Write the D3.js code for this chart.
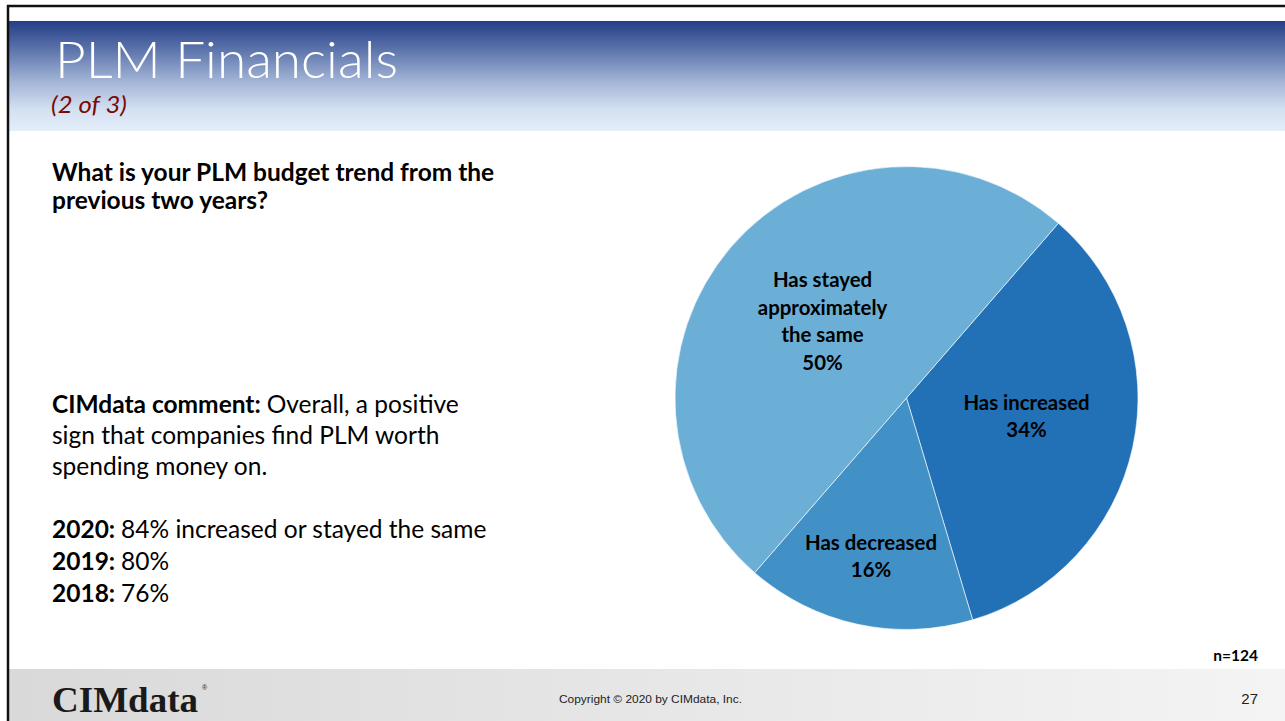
<!DOCTYPE html>
<html>
<head>
<meta charset="utf-8">
<script src="https://cdn.jsdelivr.net/npm/d3@7"></script>
<style>
  html, body { margin: 0; padding: 0; background: #fff; }
  svg { display: block; font-family: Lato, "Open Sans", sans-serif; }
</style>
</head>
<body>
<svg id="chart" width="1285" height="721"></svg>
<script>
const categories = ["Has increased", "Has decreased", "Has stayed approximately the same"];
const labelLines = [["Has increased"], ["Has decreased"], ["Has stayed", "approximately", "the same"]];
const values = [34, 16, 50];
const colors = ["#2271b6", "#4291c6", "#6baed6"];

const question = ["What is your PLM budget trend from the", "previous two years?"];
const comment = [
  [["CIMdata comment: ", true], ["Overall, a positive", false]],
  [["sign that companies find PLM worth", false]],
  [["spending money on.", false]]
];
const history = [["2020: ", "84% increased or stayed the same"], ["2019: ", "80%"], ["2018: ", "76%"]];

const W = 1285, H = 721;
const svg = d3.select("#chart");
const defs = svg.append("defs");

// header gradient
const hg = defs.append("linearGradient").attr("id", "hdr").attr("x1", 0).attr("y1", 0).attr("x2", 0).attr("y2", 1);
hg.append("stop").attr("offset", "0%").attr("stop-color", "#243d86");
hg.append("stop").attr("offset", "25%").attr("stop-color", "#5a72aa");
hg.append("stop").attr("offset", "55%").attr("stop-color", "#a3b4d6");
hg.append("stop").attr("offset", "80%").attr("stop-color", "#d3e0f1");
hg.append("stop").attr("offset", "100%").attr("stop-color", "#e3eefa");

const fg = defs.append("linearGradient").attr("id", "ftr").attr("x1", 0).attr("y1", 0).attr("x2", 1).attr("y2", 0);
fg.append("stop").attr("offset", "0%").attr("stop-color", "#d9d9d9");
fg.append("stop").attr("offset", "100%").attr("stop-color", "#f4f4f4");

// frame
svg.append("rect").attr("x", 0).attr("y", 0).attr("width", W).attr("height", H).attr("fill", "#fff");
svg.append("rect").attr("x", 9).attr("y", 21).attr("width", W - 9).attr("height", 110).attr("fill", "url(#hdr)");
svg.append("rect").attr("x", 9).attr("y", 669).attr("width", W - 9).attr("height", 52).attr("fill", "url(#ftr)");
svg.append("line").attr("x1", 7).attr("x2", W).attr("y1", 6).attr("y2", 6).attr("stroke", "#111").attr("stroke-width", 2.5);
svg.append("line").attr("x1", 8).attr("x2", 8).attr("y1", 5).attr("y2", H).attr("stroke", "#111").attr("stroke-width", 2.5);

// title
svg.append("text").attr("x", 55).attr("y", 78)
  .attr("fill", "#fff").style("font-size", "52px").style("font-weight", 300)
  .attr("textLength", 343).attr("lengthAdjust", "spacingAndGlyphs")
  .text("PLM Financials");
svg.append("text").attr("x", 51).attr("y", 113)
  .attr("fill", "#7a0a0a").style("font-size", "24px").style("font-style", "italic")
  .attr("textLength", 76).attr("lengthAdjust", "spacingAndGlyphs")
  .text("(2 of 3)");

// left text
svg.append("g").selectAll("text").data(question).join("text")
  .attr("x", 52).attr("y", (d, i) => 181 + i * 28)
  .attr("fill", "#000").style("font-size", "24.5px").style("font-weight", 700)
  .text(d => d);

const cm = svg.append("g").selectAll("text").data(comment).join("text")
  .attr("x", 52).attr("y", (d, i) => 413 + i * 31)
  .attr("fill", "#000").style("font-size", "24.5px");
cm.selectAll("tspan").data(d => d).join("tspan")
  .style("font-weight", d => d[1] ? 700 : 400)
  .text(d => d[0]);

const hs = svg.append("g").selectAll("text").data(history).join("text")
  .attr("x", 52).attr("y", (d, i) => 538 + i * 32)
  .attr("fill", "#000").style("font-size", "24.5px");
hs.append("tspan").style("font-weight", 700).text(d => d[0]);
hs.append("tspan").text(d => d[1]);

// pie
const cx = 906.5, cy = 398, r = 231.5;
const startA = 41 * Math.PI / 180;
const pie = d3.pie().sort(null).startAngle(startA).endAngle(startA + 2 * Math.PI);
const arcs = pie(values);
const arc = d3.arc().innerRadius(0).outerRadius(r);
const g = svg.append("g").attr("transform", `translate(${cx},${cy})`);
g.selectAll("path").data(arcs).join("path")
  .attr("d", arc).attr("fill", (d, i) => colors[i])
  .attr("stroke", "#fff").attr("stroke-width", 0.6);

const labelPos = [[120, 19.5], [-35.5, 159.5], [-84, -75.5]];
const lg = g.selectAll("g.lbl").data(arcs).join("g").attr("class", "lbl")
  .attr("transform", (d, i) => `translate(${labelPos[i][0]},${labelPos[i][1]})`);
lg.selectAll("text").data((d, i) => labelLines[i].concat([d.data + "%"]))
  .join("text")
  .attr("text-anchor", "middle")
  .attr("y", (d, j, n) => (j - (n.length - 1) / 2) * 27.5 + 6)
  .attr("fill", "#000").style("font-size", "20.4px").style("font-weight", 700)
  .text(d => d);

// footnote
svg.append("text").attr("x", 1258).attr("y", 661).attr("text-anchor", "end")
  .style("font-size", "15.5px").style("font-weight", 700).attr("fill", "#000").text("n=124");

// footer
svg.append("text").attr("x", 52).attr("y", 712)
  .style("font-family", "'Liberation Serif', serif").style("font-size", "35px").style("font-weight", 700)
  .attr("fill", "#1a1a1a").attr("textLength", 146).attr("lengthAdjust", "spacingAndGlyphs")
  .text("CIMdata");
svg.append("text").attr("x", 202).attr("y", 690)
  .style("font-family", "'Liberation Sans', sans-serif").style("font-size", "7px").attr("fill", "#222").text("®");
svg.append("text").attr("x", 559).attr("y", 703)
  .style("font-family", "'Liberation Sans', Arial, sans-serif").style("font-size", "11px").attr("fill", "#222")
  .attr("textLength", 183).attr("lengthAdjust", "spacingAndGlyphs")
  .text("Copyright © 2020 by CIMdata, Inc.");
svg.append("text").attr("x", 1258).attr("y", 704).attr("text-anchor", "end")
  .style("font-family", "'Liberation Sans', Arial, sans-serif").style("font-size", "15px").attr("fill", "#222")
  .text("27");
</script>
</body>
</html>
